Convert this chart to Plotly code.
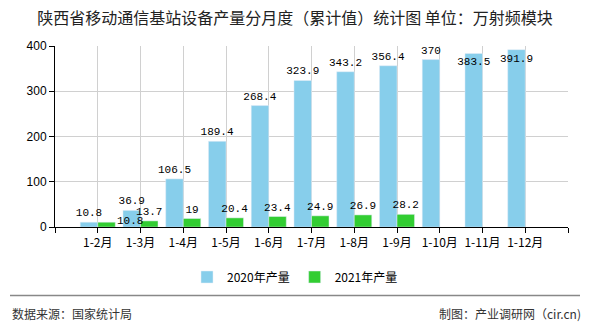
import plotly.graph_objects as go

categories = ["1-2月", "1-3月", "1-4月", "1-5月", "1-6月", "1-7月", "1-8月", "1-9月", "1-10月", "1-11月", "1-12月"]
values_2020 = [10.8, 36.9, 106.5, 189.4, 268.4, 323.9, 343.2, 356.4, 370, 383.5, 391.9]
values_2021 = [10.8, 13.7, 19, 20.4, 23.4, 24.9, 26.9, 28.2, None, None, None]
y_ticks = [0, 100, 200, 300, 400]

xpos = list(range(len(categories)))
tickvals = [-1] + xpos + [len(categories)]
ticktext = [""] + categories + [""]

def fmt(v):
    return "" if v is None else ("%g" % v)

label_font = dict(family="Liberation Mono", size=11, color="#000")

# label placement like the reference: last two 2020 labels sit inside the bar top
pos_2020 = ["outside"] * (len(values_2020) - 2) + ["inside", "inside"]
text_2021 = [fmt(v) for v in values_2021]
text_2021[0] = ""  # first 2021 label is drawn beside its bar (see annotation)

fig = go.Figure()
fig.add_trace(go.Bar(
    x=xpos, y=values_2020, name="2020年产量", marker_color="#87CEEB",
    text=[fmt(v) for v in values_2020], textposition=pos_2020,
    insidetextanchor="end", textangle=0, constraintext="none",
    textfont=label_font, insidetextfont=label_font, outsidetextfont=label_font,
    cliponaxis=False,
))
fig.add_trace(go.Bar(
    x=xpos, y=values_2021, name="2021年产量", marker_color="#32CD32",
    text=text_2021, textposition="outside", textangle=0, constraintext="none",
    textfont=label_font, outsidetextfont=label_font,
    cliponaxis=False,
))
fig.add_annotation(x=xpos[0], y=values_2021[0], xref="x", yref="y",
                   text=fmt(values_2021[0]), showarrow=False,
                   xanchor="left", yanchor="middle", xshift=17, yshift=1,
                   font=label_font)

fig.update_layout(
    width=590, height=330,
    margin=dict(l=55, r=22, t=46, b=101),
    paper_bgcolor="white", plot_bgcolor="white",
    barmode="group", bargap=0.18, bargroupgap=0,
    font=dict(family="Noto Sans CJK SC", size=12, color="#000"),
    title=dict(text="陕西省移动通信基站设备产量分月度（累计值）统计图 单位：万射频模块",
               x=0.5, xanchor="center", y=1 - 18/330, yanchor="middle",
               font=dict(family="Noto Sans CJK SC", size=16, color="#222")),
    showlegend=True,
    legend=dict(orientation="h", xref="container", yref="container",
                x=0.5, xanchor="center", y=1 - 277/330, yanchor="middle",
                font=dict(family="Noto Sans CJK SC", size=12, color="#000"),
                itemwidth=30),
    uniformtext=dict(minsize=11, mode="show"),
)
fig.update_xaxes(
    range=[-1, len(categories)], tickmode="array", tickvals=tickvals, ticktext=ticktext,
    showgrid=True, gridcolor="#d0d0d0", gridwidth=1,
    showline=True, linecolor="#000", linewidth=1,
    ticks="outside", ticklen=5, tickcolor="#000",
    tickfont=dict(family="Noto Sans CJK SC", size=12, color="#000"),
    zeroline=False, fixedrange=True,
)
fig.update_yaxes(
    range=[0, 400], tickmode="array", tickvals=y_ticks,
    showgrid=True, gridcolor="#d0d0d0", gridwidth=1,
    showline=True, linecolor="#000", linewidth=1,
    ticks="outside", ticklen=5, tickcolor="#000",
    tickfont=dict(family="Liberation Sans", size=12, color="#000"),
    zeroline=False, fixedrange=True,
)

fig.add_shape(type="line", xref="paper", yref="paper",
              x0=-45/513, x1=(580-55)/513, y0=-(298-229)/183, y1=-(298-229)/183,
              line=dict(color="#888", width=1.5))
fig.add_annotation(text="数据来源：国家统计局", xref="paper", yref="paper",
                   x=-45/513, xanchor="left", y=-(316-229)/183, yanchor="middle",
                   showarrow=False, font=dict(family="Noto Sans CJK SC", size=12, color="#333"))
fig.add_annotation(text="制图：产业调研网（cir.cn)", xref="paper", yref="paper",
                   x=(583-55)/513, xanchor="right", y=-(316-229)/183, yanchor="middle",
                   showarrow=False, font=dict(family="Noto Sans CJK SC", size=12, color="#333"))

fig.write_html("out.html")
